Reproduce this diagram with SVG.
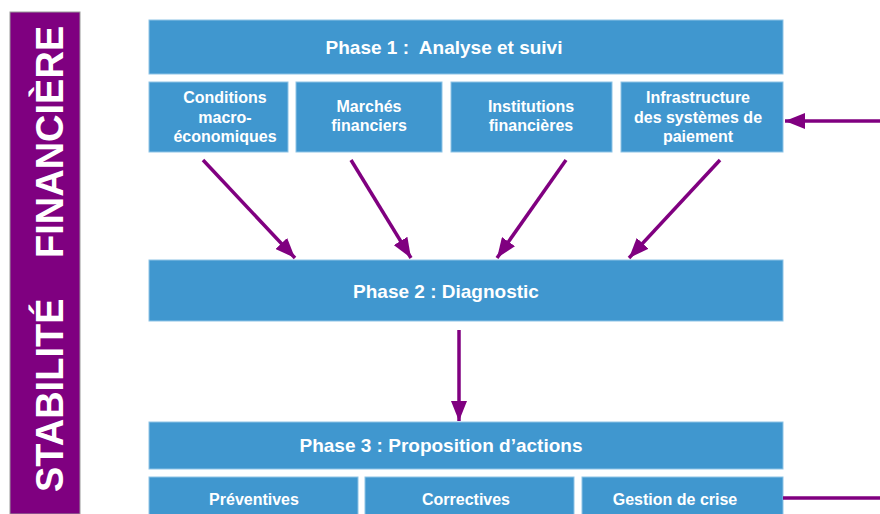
<svg xmlns="http://www.w3.org/2000/svg" width="880" height="514" viewBox="0 0 880 514">
  <defs>
    <marker id="ah" markerUnits="userSpaceOnUse" markerWidth="20" markerHeight="16" viewBox="0 0 20 16" refX="20" refY="8" orient="auto">
      <path d="M0,0 L20,8 L0,16 Z" fill="#800080"/>
    </marker>
    <style>
      .box { fill: #4097cf; stroke: #8dc3e6; stroke-width: 1; }
      .t { fill: #ffffff; font-family: "Liberation Sans", Arial, sans-serif; font-weight: bold; text-anchor: middle; }
      .big { font-size: 19px; }
      .sm { font-size: 16px; }
      .c { stroke: #800080; stroke-width: 3.5; fill: none; }
    </style>
  </defs>
  <rect width="880" height="514" fill="#ffffff"/>

  <g id="title-bar">
    <rect x="10" y="12" width="70" height="502" fill="#7f0080" stroke="#9a9a9a" stroke-width="1"/>
    <text transform="translate(63,0) rotate(-90)" style="fill:#ffffff;font-family:'Liberation Sans',Arial,sans-serif;font-weight:bold;font-size:38px"><tspan x="-492">STABILITÉ</tspan><tspan x="-258">FINANCIÈRE</tspan></text>
  </g>

  <g id="phase1">
    <rect class="box" x="149" y="20" width="634" height="54"/>
    <text class="t big" x="444" y="54" xml:space="preserve">Phase 1 :  Analyse et suivi</text>
  </g>
  <g id="conditions">
    <rect class="box" x="149" y="82" width="139" height="70"/>
    <text class="t sm" x="225" y="103">Conditions</text>
    <text class="t sm" x="225" y="123">macro-</text>
    <text class="t sm" x="225" y="142">économiques</text>
  </g>
  <g id="marches">
    <rect class="box" x="296" y="82" width="146" height="70"/>
    <text class="t sm" x="369" y="112">Marchés</text>
    <text class="t sm" x="369" y="131">financiers</text>
  </g>
  <g id="institutions">
    <rect class="box" x="451" y="82" width="161" height="70"/>
    <text class="t sm" x="531" y="112">Institutions</text>
    <text class="t sm" x="531" y="131">financières</text>
  </g>
  <g id="infrastructure">
    <rect class="box" x="621" y="82" width="162" height="70"/>
    <text class="t sm" x="698" y="103">Infrastructure</text>
    <text class="t sm" x="698" y="123">des systèmes de</text>
    <text class="t sm" x="698" y="142">paiement</text>
  </g>

  <g id="phase2">
    <rect class="box" x="149" y="260" width="634" height="61"/>
    <text class="t big" x="446" y="298">Phase 2 : Diagnostic</text>
  </g>

  <g id="phase3">
    <rect class="box" x="149" y="422" width="634" height="47"/>
    <text class="t big" x="441" y="452">Phase 3 : Proposition d’actions</text>
  </g>
  <g id="preventives">
    <rect class="box" x="149" y="477" width="209" height="45"/>
    <text class="t sm" x="254" y="505">Préventives</text>
  </g>
  <g id="correctives">
    <rect class="box" x="365" y="477" width="209" height="45"/>
    <text class="t sm" x="466" y="505">Correctives</text>
  </g>
  <g id="crise">
    <rect class="box" x="582" y="477" width="201" height="45"/>
    <text class="t sm" x="675" y="505">Gestion de crise</text>
  </g>

  <g id="connectors">
    <line class="c" x1="203" y1="160" x2="295" y2="258" marker-end="url(#ah)"/>
    <line class="c" x1="351" y1="160" x2="411" y2="258" marker-end="url(#ah)"/>
    <line class="c" x1="566" y1="160" x2="497" y2="258" marker-end="url(#ah)"/>
    <line class="c" x1="720" y1="160" x2="629" y2="258" marker-end="url(#ah)"/>
    <line class="c" x1="459" y1="330" x2="459" y2="421" marker-end="url(#ah)"/>
    <line class="c" x1="880" y1="121" x2="785" y2="121" marker-end="url(#ah)"/>
    <line class="c" x1="783" y1="498" x2="880" y2="498"/>
  </g>
</svg>
